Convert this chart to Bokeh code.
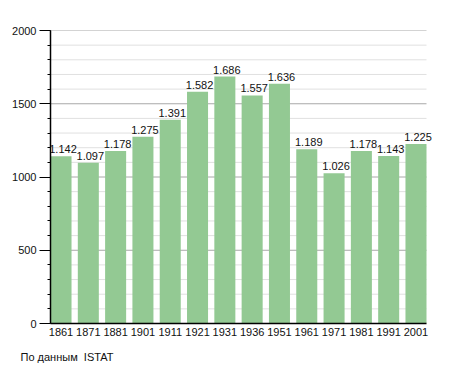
from bokeh.plotting import figure
from bokeh.models import ColumnDataSource, SingleIntervalTicker, FixedTicker, Range1d, LabelSet, Title
from bokeh.core.properties import value
from bokeh.embed import file_html
from bokeh.resources import INLINE

years = ["1861", "1871", "1881", "1901", "1911", "1921", "1931", "1936", "1951",
         "1961", "1971", "1981", "1991", "2001"]
population = [1142, 1097, 1178, 1275, 1391, 1582, 1686, 1557, 1636,
              1189, 1026, 1178, 1143, 1225]
value_labels = [f"{v // 1000}.{v % 1000:03d}" for v in population]
major_levels = [500, 1000, 1500, 2000]
minor_levels = [v for v in range(100, 2000, 100) if v % 500]

FONT = "Liberation Sans"
BAR_W = 0.77
xs = list(range(len(years)))
x0 = -BAR_W / 2
x1 = len(years) - 1 + BAR_W / 2
src = ColumnDataSource(dict(x=xs, top=population, lbl=value_labels))

p = figure(width=455, height=373, output_backend="svg", toolbar_location=None,
           x_range=Range1d(x0, x0 + (x1 - x0) * 395 / 376),
           y_range=Range1d(0, 2000),
           min_border_left=50, min_border_right=10, min_border_top=30, min_border_bottom=50)
p.outline_line_color = None
p.background_fill_color = "white"
p.xgrid.grid_line_color = None
p.ygrid.grid_line_color = None

# grid lines restricted to the bar area
p.segment(x0=[x0] * len(minor_levels), x1=[x1] * len(minor_levels), y0=minor_levels, y1=minor_levels,
          line_color="#e0e0e0", line_width=1)
p.segment(x0=[x0] * len(major_levels), x1=[x1] * len(major_levels), y0=major_levels, y1=major_levels,
          line_color="#a8a8a8", line_width=1)

p.vbar(x="x", top="top", width=BAR_W, source=src, fill_color="#93c993", line_color=None)

labels = LabelSet(x="x", y="top", text="lbl", source=src, x_offset=2, y_offset=3,
                  text_align="center", text_baseline="bottom",
                  text_font=value(FONT), text_font_size=value("11px"), text_color="#111111")
p.add_layout(labels)

# x axis
p.xaxis.bounds = (x0, x1)
p.xaxis.ticker = FixedTicker(ticks=xs)
p.xaxis.major_label_overrides = {i: y for i, y in enumerate(years)}
p.xaxis.major_tick_out = 0
p.xaxis.major_tick_in = 0
p.xaxis.minor_tick_out = 0
p.xaxis.minor_tick_in = 0
p.xaxis.axis_line_color = "black"
p.xaxis.axis_line_width = 1.5
p.xaxis.major_label_standoff = 4
p.xaxis.major_label_text_font = FONT
p.xaxis.major_label_text_font_size = "11px"
p.xaxis.major_label_text_color = "#111111"

# y axis
p.yaxis.ticker = SingleIntervalTicker(interval=500, num_minor_ticks=5)
p.yaxis.major_tick_out = 11
p.yaxis.major_tick_in = 0
p.yaxis.minor_tick_out = 3
p.yaxis.minor_tick_in = 0
p.yaxis.axis_line_color = "black"
p.yaxis.axis_line_width = 1.5
p.yaxis.major_label_standoff = 3
p.yaxis.major_label_text_font = FONT
p.yaxis.major_label_text_font_size = "11px"
p.yaxis.major_label_text_color = "#111111"

p.add_layout(Title(text="По данным\u00a0\u00a0ISTAT", align="left", offset=-30, standoff=21,
                   text_font=FONT, text_font_size="11px", text_font_style="normal",
                   text_color="#111111"), "below")

open("out.html", "w").write(file_html(p, INLINE))
